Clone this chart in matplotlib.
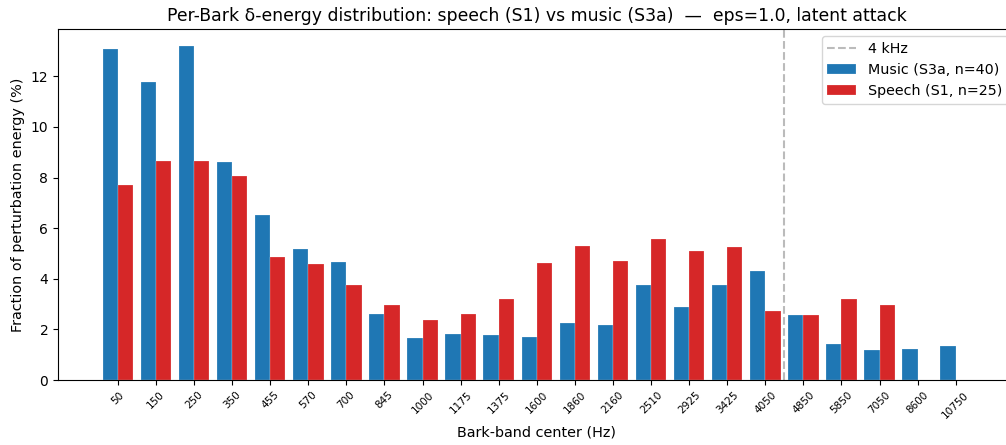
import numpy as np
import matplotlib
matplotlib.use("Agg")
import matplotlib.pyplot as plt

bands = [50, 150, 250, 350, 455, 570, 700, 845, 1000, 1175, 1375, 1600,
         1860, 2160, 2510, 2925, 3425, 4050, 4850, 5850, 7050, 8600, 10750]
music = [13.07, 11.79, 13.21, 8.62, 6.50, 5.18, 4.65, 2.59, 1.66, 1.80, 1.78, 1.70,
         2.24, 2.18, 3.74, 2.89, 3.76, 4.30, 2.55, 1.42, 1.20, 1.22, 1.34]
speech = [7.70, 8.65, 8.67, 8.08, 4.86, 4.58, 3.76, 2.95, 2.37, 2.62, 3.22, 4.61,
          5.29, 4.72, 5.59, 5.08, 5.26, 2.72, 2.55, 3.20, 2.97, 0.0, 0.0]


def main():
    fig = plt.figure(figsize=(10.06, 4.45), dpi=100)
    # the original picture was cropped on the right, so the axes run past the edge
    ax = fig.add_axes([0.0577, 0.146, 0.951, 0.789])

    x = np.arange(len(bands))
    w = 0.4
    edge = (1, 1, 1, 0.5)
    ax.axvline(17.5, color="#bbbbbb", linestyle="--", linewidth=1.5, label="4 kHz")
    ax.bar(x - w / 2, music, w, color="#1f77b4", edgecolor=edge, linewidth=0.3,
           label="Music (S3a, n=40)")
    ax.bar(x + w / 2, speech, w, color="#d62728", edgecolor=edge, linewidth=0.3,
           label="Speech (S1, n=25)")

    ax.set_xticks(x)
    ax.set_xticklabels([str(b) for b in bands], rotation=45, fontsize=7.5)
    ax.set_xlim(-1.57, 23.55)
    ax.tick_params(axis="y", labelsize=10)
    ax.set_xlabel("Bark-band center (Hz)", fontsize=10.4)
    ax.set_ylabel("Fraction of perturbation energy (%)", fontsize=10.4)
    ax.set_title("Per-Bark δ-energy distribution: speech (S1) vs music (S3a)  —  eps=1.0, latent attack",
                 fontsize=12.4)
    ax.legend(loc="upper right", fontsize=10.3)

    fig.savefig("out.png", dpi=100)


if __name__ == "__main__":
    main()
